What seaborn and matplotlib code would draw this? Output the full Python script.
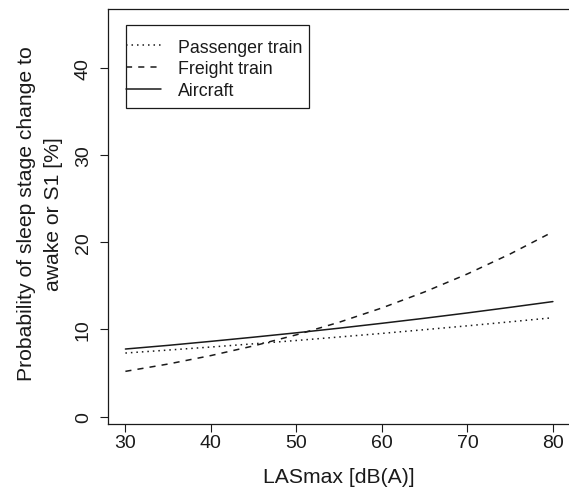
import numpy as np
import pandas as pd
import matplotlib
matplotlib.use("Agg")
import matplotlib.pyplot as plt
from matplotlib.patches import Rectangle
from matplotlib.lines import Line2D
import seaborn as sns

# ---- data ----
lasmax = [30, 35, 40, 45, 50, 55, 60, 65, 70, 75, 80]
passenger_train = [7.30, 7.64, 7.99, 8.36, 8.74, 9.14, 9.55, 9.98, 10.42, 10.88, 11.35]
freight_train = [5.20, 6.04, 7.01, 8.12, 9.39, 10.83, 12.47, 14.31, 16.37, 18.66, 21.20]
aircraft = [7.76, 8.18, 8.64, 9.12, 9.62, 10.15, 10.71, 11.29, 11.90, 12.54, 13.20]
series_names = ["Passenger train", "Freight train", "Aircraft"]
x_ticks = [30, 40, 50, 60, 70, 80]
y_ticks = [0, 10, 20, 30, 40]

df = pd.concat([
    pd.DataFrame({"LASmax": lasmax, "prob": passenger_train, "source": series_names[0]}),
    pd.DataFrame({"LASmax": lasmax, "prob": freight_train, "source": series_names[1]}),
    pd.DataFrame({"LASmax": lasmax, "prob": aircraft, "source": series_names[2]}),
], ignore_index=True)

sns.set_style("ticks")
plt.rcParams["font.family"] = ["Liberation Sans", "DejaVu Sans"]

W, H = 569, 489
fig = plt.figure(figsize=(W / 100, H / 100), dpi=100)
ax_l, ax_r, ax_t, ax_b = 108.3, 570.0, 10.0, 424.5
ax = fig.add_axes([ax_l / W, 1 - ax_b / H, (ax_r - ax_l) / W, (ax_b - ax_t) / H])

ink = "#1a1a1a"
lw = 1.1
dash_map = {
    "Passenger train": (1, 2.6),
    "Freight train": (4, 4),
    "Aircraft": "",
}
sns.lineplot(data=df, x="LASmax", y="prob", style="source", style_order=series_names,
             dashes=dash_map, color=ink, linewidth=lw, legend=False, ax=ax)

ax.set_xlim(28, 82)
ax.set_ylim(-0.78, 46.75)
ax.set_xticks(x_ticks)
ax.set_yticks(y_ticks)
ax.set_xticklabels([str(v) for v in x_ticks])
ax.set_yticklabels([str(v) for v in y_ticks], rotation=90, va="center")

for s in ax.spines.values():
    s.set_color(ink)
    s.set_linewidth(0.9)
ax.tick_params(axis="both", direction="out", length=5.8, width=0.8, color=ink,
               labelsize=14, labelcolor=ink)
ax.tick_params(axis="x", pad=1.5)
ax.tick_params(axis="y", pad=6.0)

ax.set_xlabel("LASmax [dB(A)]", fontsize=15.2, color=ink, va="center")
ax.xaxis.set_label_coords(0.5, -(478 - ax_b) / (ax_b - ax_t))
ax.set_ylabel("Probability of sleep stage change to\nawake or S1 [%]", fontsize=15.2,
              color=ink, va="center", ha="center", linespacing=1.5)
ax.yaxis.set_label_coords(-(ax_l - 40) / (ax_r - ax_l), 1 - (214 - ax_t) / (ax_b - ax_t))

# legend (R-style box)
handles = [Line2D([], [], color=ink, linewidth=lw,
                  linestyle=(0, dash_map[n]) if dash_map[n] else "-") for n in series_names]
axw, axh = ax_r - ax_l, ax_b - ax_t
box_l, box_t, box_r, box_bt = 125.7, 25.7, 309.0, 109.0
leg = ax.legend(handles, series_names, loc="upper left", frameon=False,
                bbox_to_anchor=((box_l + 0.5 - ax_l) / axw, 1 - (box_t + 14 - ax_t) / axh),
                borderaxespad=0, borderpad=0, fontsize=12.8, handlelength=1.95,
                handletextpad=0.95, labelspacing=0.27)
for t in leg.get_texts():
    t.set_color(ink)
ax.add_patch(Rectangle(((box_l - ax_l) / axw, 1 - (box_bt - ax_t) / axh),
                       (box_r - box_l) / axw, (box_bt - box_t) / axh,
                       transform=ax.transAxes, fill=False, edgecolor=ink,
                       linewidth=0.9, zorder=5))

fig.savefig("out.png", dpi=100)
